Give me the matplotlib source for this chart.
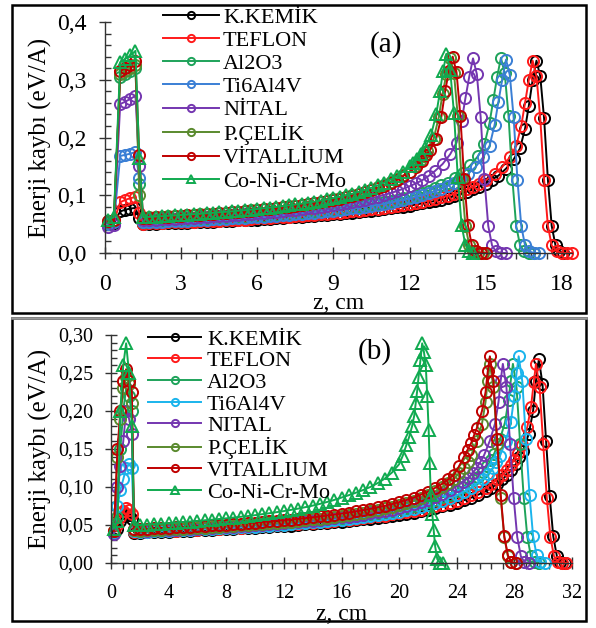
import matplotlib
matplotlib.use("Agg")
import matplotlib.pyplot as plt
from matplotlib.ticker import MultipleLocator, FixedLocator, FixedFormatter
from matplotlib.patches import Rectangle
from matplotlib.lines import Line2D

plt.rcParams['font.family'] = ['Liberation Serif', 'DejaVu Serif']

# ---------------- panel (a) data ----------------
a_spike_z = [0.1, 0.35, 0.6, 0.8, 1.0, 1.2, 1.35]
a_plateau_z = [1.5, 1.75, 2.0, 2.25, 2.5, 2.75, 3.0, 3.25, 3.5, 3.75, 4.0, 4.25, 4.5, 4.75,
               5.0, 5.25, 5.5, 5.75, 6.0, 6.25, 6.5, 6.75, 7.0, 7.25, 7.5, 7.75, 8.0, 8.25,
               8.5, 8.75, 9.0, 9.25, 9.5, 9.75, 10.0, 10.25, 10.5, 10.75, 11.0, 11.25, 11.5,
               11.75, 12.0]

a_kemik_spike = [0.050, 0.052, 0.072, 0.075, 0.077, 0.078, 0.060]
a_kemik_plateau = [0.050, 0.0505, 0.051, 0.0512, 0.0515, 0.0518, 0.052, 0.0525, 0.053, 0.0535,
                   0.054, 0.0545, 0.055, 0.0555, 0.056, 0.0565, 0.057, 0.0575, 0.058, 0.0585,
                   0.059, 0.060, 0.061, 0.0615, 0.062, 0.063, 0.064, 0.0645, 0.065, 0.066, 0.067,
                   0.068, 0.069, 0.070, 0.071, 0.072, 0.073, 0.0745, 0.076, 0.0775, 0.079, 0.0805,
                   0.082]
a_kemik_tail_z = [12.25, 12.5, 12.75, 13.0, 13.25, 13.5, 13.75, 14.0, 14.25, 14.5, 14.75, 15.0,
                  15.25, 15.5, 15.8, 16.1, 16.35, 16.55, 16.7, 16.85, 17.0, 17.15, 17.3, 17.45,
                  17.6, 17.75, 17.9, 18.05]
a_kemik_tail_e = [0.084, 0.086, 0.088, 0.090, 0.0925, 0.095, 0.0985, 0.102, 0.106, 0.110, 0.115,
                  0.120, 0.127, 0.134, 0.146, 0.162, 0.181, 0.215, 0.255, 0.300, 0.333, 0.306,
                  0.233, 0.127, 0.047, 0.013, 0.003, 0.0]

a_teflon_spike = [0.052, 0.055, 0.088, 0.092, 0.095, 0.097, 0.070]
a_teflon_plateau = [0.051, 0.0515, 0.052, 0.0525, 0.053, 0.0535, 0.054, 0.0543, 0.0545, 0.0548,
                    0.055, 0.0555, 0.056, 0.0565, 0.057, 0.0575, 0.058, 0.059, 0.0598, 0.0604,
                    0.061, 0.0617, 0.0624, 0.0631, 0.0638, 0.0645, 0.0653, 0.0661, 0.067, 0.068,
                    0.069, 0.070, 0.071, 0.072, 0.073, 0.0742, 0.0755, 0.0767, 0.078, 0.0795,
                    0.081, 0.083, 0.085]
a_teflon_tail_z = [12.25, 12.5, 12.75, 13.0, 13.25, 13.5, 13.75, 14.0, 14.25, 14.5, 14.75, 15.0,
                   15.35, 15.65, 15.95, 16.2, 16.4, 16.55, 16.7, 16.85, 17.0, 17.15, 17.3, 17.45,
                   17.6, 17.8, 18.0, 18.2, 18.4]
a_teflon_tail_e = [0.087, 0.089, 0.0915, 0.094, 0.0965, 0.099, 0.1025, 0.106, 0.110, 0.115, 0.120,
                   0.126, 0.137, 0.149, 0.166, 0.185, 0.220, 0.260, 0.300, 0.333, 0.306, 0.233,
                   0.127, 0.047, 0.013, 0.003, 0.0, 0.0, 0.0]

a_al2o3_spike = [0.052, 0.055, 0.305, 0.310, 0.315, 0.320, 0.120]
a_al2o3_plateau = [0.0540, 0.0545, 0.0549, 0.0554, 0.0558, 0.0563, 0.0568, 0.0573, 0.0578, 0.0583,
                   0.0589, 0.0594, 0.0600, 0.0606, 0.0613, 0.0619, 0.0626, 0.0633, 0.0640, 0.0647,
                   0.0655, 0.0663, 0.0672, 0.0680, 0.0689, 0.0699, 0.0709, 0.0719, 0.0730, 0.0741,
                   0.0753, 0.0766, 0.0780, 0.0794, 0.0809, 0.0825, 0.0842, 0.0860, 0.0880, 0.0901,
                   0.0924, 0.0950, 0.0977]
a_al2o3_tail_z = [12.25, 12.5, 12.75, 13.0, 13.25, 13.5, 13.8, 14.1, 14.4, 14.7, 14.95, 15.15,
                  15.3, 15.45, 15.6, 15.75, 15.9, 16.05, 16.2, 16.35, 16.5, 16.7, 16.9]
a_al2o3_tail_e = [0.1005, 0.104, 0.108, 0.112, 0.117, 0.122, 0.130, 0.139, 0.152, 0.168, 0.188,
                  0.225, 0.265, 0.305, 0.338, 0.311, 0.237, 0.128, 0.047, 0.014, 0.003, 0.0, 0.0]

a_ti_spike = [0.050, 0.053, 0.168, 0.170, 0.172, 0.175, 0.130]
a_ti_plateau = [0.0530, 0.0534, 0.0538, 0.0542, 0.0547, 0.0551, 0.0556, 0.0561, 0.0566, 0.0571,
                0.0577, 0.0582, 0.0588, 0.0593, 0.0599, 0.0605, 0.0612, 0.0618, 0.0625, 0.0632,
                0.0640, 0.0648, 0.0656, 0.0664, 0.0673, 0.0682, 0.0691, 0.0701, 0.0711, 0.0722,
                0.0734, 0.0746, 0.0759, 0.0772, 0.0786, 0.0802, 0.0818, 0.0835, 0.0853, 0.0873,
                0.0895, 0.0919, 0.0944]
a_ti_tail_z = [12.25, 12.5, 12.75, 13.0, 13.25, 13.5, 13.75, 14.0, 14.3, 14.6, 14.9, 15.15,
               15.35, 15.5, 15.65, 15.8, 15.95, 16.1, 16.25, 16.4, 16.55, 16.7, 16.9, 17.1]
a_ti_tail_e = [0.097, 0.100, 0.1035, 0.107, 0.111, 0.116, 0.122, 0.128, 0.137, 0.149, 0.166,
               0.185, 0.222, 0.262, 0.300, 0.335, 0.308, 0.235, 0.127, 0.047, 0.013, 0.003,
               0.0, 0.0]

a_nital_spike = [0.045, 0.048, 0.258, 0.262, 0.267, 0.272, 0.150]
a_nital_plateau = [0.0570, 0.0575, 0.0580, 0.0585, 0.0590, 0.0595, 0.0600, 0.0606, 0.0613, 0.0619,
                   0.0626, 0.0633, 0.0640, 0.0647, 0.0654, 0.0662, 0.0670, 0.0678, 0.0687, 0.0696,
                   0.0705, 0.0715, 0.0725, 0.0736, 0.0747, 0.0759, 0.0772, 0.0786, 0.0800, 0.0815,
                   0.0830, 0.0847, 0.0864, 0.0883, 0.0904, 0.0926, 0.0950, 0.0977, 0.1006, 0.1038,
                   0.1072, 0.1112, 0.1156]
a_nital_tail_z = [12.25, 12.5, 12.75, 13.0, 13.3, 13.6, 13.85, 14.05, 14.2, 14.35, 14.5, 14.65,
                  14.8, 14.95, 15.1, 15.25, 15.4, 15.6, 15.8]
a_nital_tail_e = [0.1205, 0.126, 0.1335, 0.142, 0.154, 0.171, 0.191, 0.228, 0.268, 0.305, 0.337,
                  0.310, 0.236, 0.128, 0.047, 0.013, 0.003, 0.0, 0.0]

a_celik_spike = [0.055, 0.058, 0.310, 0.315, 0.320, 0.325, 0.100]
a_celik_plateau = [0.0609, 0.0615, 0.0621, 0.0627, 0.0633, 0.0639, 0.0646, 0.0653, 0.0660, 0.0667,
                   0.0674, 0.0682, 0.0691, 0.0699, 0.0708, 0.0717, 0.0727, 0.0737, 0.0747, 0.0758,
                   0.0769, 0.0781, 0.0794, 0.0808, 0.0822, 0.0837, 0.0853, 0.0870, 0.0888, 0.0907,
                   0.0928, 0.0950, 0.0974, 0.1000, 0.1030, 0.1061, 0.1096, 0.1135, 0.1179, 0.1230,
                   0.1286, 0.1345, 0.1409]
a_celik_tail_z = [12.2, 12.4, 12.55, 12.7, 12.95, 13.15, 13.3, 13.45, 13.6, 13.75, 13.9, 14.05,
                  14.2, 14.35, 14.5, 14.7, 14.9]
a_celik_tail_e = [0.150, 0.160, 0.168, 0.177, 0.198, 0.235, 0.275, 0.310, 0.338, 0.311, 0.237,
                  0.128, 0.047, 0.014, 0.003, 0.0, 0.0]

a_vit_spike = [0.055, 0.058, 0.315, 0.320, 0.326, 0.332, 0.170]
a_vit_plateau = [0.0608, 0.0614, 0.0620, 0.0626, 0.0632, 0.0638, 0.0644, 0.0651, 0.0658, 0.0665,
                 0.0673, 0.0681, 0.0689, 0.0697, 0.0706, 0.0715, 0.0724, 0.0734, 0.0744, 0.0755,
                 0.0766, 0.0778, 0.0790, 0.0804, 0.0818, 0.0833, 0.0848, 0.0865, 0.0882, 0.0901,
                 0.0921, 0.0943, 0.0966, 0.0992, 0.1020, 0.1051, 0.1084, 0.1122, 0.1165, 0.1213,
                 0.1266, 0.1332, 0.1406]
a_vit_tail_z = [12.25, 12.5, 12.65, 12.8, 13.05, 13.25, 13.4, 13.55, 13.7, 13.85, 14.0, 14.15,
                14.3, 14.45, 14.6, 14.8, 15.0]
a_vit_tail_e = [0.149, 0.160, 0.169, 0.178, 0.198, 0.235, 0.280, 0.315, 0.340, 0.313, 0.238,
                0.129, 0.048, 0.014, 0.003, 0.0, 0.0]

a_co_spike = [0.058, 0.062, 0.330, 0.336, 0.342, 0.350, 0.165]
a_co_plateau = [0.0620, 0.0626, 0.0632, 0.0638, 0.0644, 0.0651, 0.0658, 0.0665, 0.0672, 0.0679,
                0.0687, 0.0695, 0.0704, 0.0712, 0.0721, 0.0731, 0.0741, 0.0751, 0.0762, 0.0774,
                0.0786, 0.0799, 0.0812, 0.0826, 0.0840, 0.0856, 0.0872, 0.0890, 0.0909, 0.0929,
                0.0951, 0.0975, 0.1000, 0.1028, 0.1059, 0.1093, 0.1130, 0.1172, 0.1219, 0.1273,
                0.1335, 0.1410, 0.1498]
a_co_tail_z = [12.15, 12.3, 12.45, 12.6, 12.85, 13.05, 13.2, 13.32, 13.45, 13.6, 13.75, 13.9,
               14.05, 14.2, 14.35, 14.5]
a_co_tail_e = [0.156, 0.163, 0.172, 0.182, 0.205, 0.240, 0.280, 0.315, 0.345, 0.317, 0.242,
               0.131, 0.048, 0.014, 0.003, 0.0]

# ---------------- panel (b) data ----------------
b_spike_z = [0.2, 0.45, 0.65, 0.85, 1.05, 1.25, 1.45, 1.6]
b_plateau_z = [2, 2.5, 3, 3.5, 4, 4.5, 5, 5.5, 6, 6.5, 7, 7.5, 8, 8.5, 9, 9.5, 10, 10.5, 11,
               11.5, 12, 12.5, 13, 13.5, 14, 14.5, 15, 15.5, 16, 16.5, 17, 17.5, 18, 18.5, 19,
               19.5, 20]

b_kemik_spike = [0.040, 0.045, 0.055, 0.062, 0.065, 0.063, 0.058, 0.040]
b_kemik_plateau = [0.0400, 0.0403, 0.0407, 0.0410, 0.0413, 0.0417, 0.0421, 0.0425, 0.0429, 0.0433,
                   0.0437, 0.0441, 0.0446, 0.0450, 0.0455, 0.0460, 0.0465, 0.0470, 0.0476, 0.0481,
                   0.0487, 0.0493, 0.0500, 0.0507, 0.0514, 0.0521, 0.0529, 0.0537, 0.0545, 0.0554,
                   0.0564, 0.0574, 0.0584, 0.0595, 0.0607, 0.0620, 0.0633]
b_kemik_tail_z = [20.5, 21, 21.5, 22, 22.5, 23, 23.5, 24, 24.5, 25, 25.5, 26, 26.4, 26.8, 27.15,
                  27.5, 27.8, 28.1, 28.35, 28.6, 29.0, 29.3, 29.5, 29.7, 29.95, 30.2, 30.45, 30.7,
                  30.95, 31.2, 31.5]
b_kemik_tail_e = [0.0648, 0.0663, 0.0681, 0.0700, 0.0721, 0.0744, 0.0769, 0.0795, 0.0826, 0.0860,
                  0.0900, 0.0943, 0.099, 0.104, 0.110, 0.116, 0.123, 0.130, 0.139, 0.148, 0.170,
                  0.200, 0.240, 0.268, 0.236, 0.161, 0.088, 0.035, 0.009, 0.001, 0.0]

b_teflon_spike = [0.042, 0.050, 0.060, 0.068, 0.072, 0.070, 0.065, 0.041]
b_teflon_plateau = [0.0410, 0.0413, 0.0417, 0.0420, 0.0424, 0.0427, 0.0431, 0.0435, 0.0439, 0.0443,
                    0.0448, 0.0452, 0.0457, 0.0462, 0.0467, 0.0472, 0.0477, 0.0483, 0.0489, 0.0494,
                    0.0500, 0.0507, 0.0514, 0.0521, 0.0528, 0.0536, 0.0544, 0.0552, 0.0561, 0.0570,
                    0.0580, 0.0590, 0.0601, 0.0613, 0.0625, 0.0639, 0.0653]
b_teflon_tail_z = [20.5, 21, 21.5, 22, 22.5, 23, 23.5, 24, 24.5, 25, 25.5, 26, 26.4, 26.8, 27.15,
                   27.5, 27.75, 28.0, 28.25, 28.5, 28.9, 29.15, 29.35, 29.5, 29.75, 30.0, 30.25,
                   30.5, 30.75, 31.0, 31.3, 31.6]
b_teflon_tail_e = [0.0668, 0.0684, 0.0703, 0.0723, 0.0745, 0.0767, 0.0793, 0.0821, 0.0857, 0.0896,
                   0.0938, 0.0982, 0.104, 0.110, 0.116, 0.123, 0.129, 0.136, 0.145, 0.155, 0.179,
                   0.205, 0.238, 0.262, 0.231, 0.157, 0.086, 0.034, 0.009, 0.001, 0.0, 0.0]

b_al2o3_spike = [0.040, 0.060, 0.150, 0.200, 0.230, 0.220, 0.200, 0.043]
b_al2o3_plateau = [0.0420, 0.0424, 0.0428, 0.0431, 0.0435, 0.0440, 0.0444, 0.0448, 0.0453, 0.0457,
                   0.0462, 0.0467, 0.0472, 0.0477, 0.0483, 0.0489, 0.0495, 0.0501, 0.0507, 0.0514,
                   0.0521, 0.0528, 0.0536, 0.0544, 0.0552, 0.0561, 0.0571, 0.0581, 0.0591, 0.0602,
                   0.0614, 0.0627, 0.0640, 0.0655, 0.0670, 0.0687, 0.0705]
b_al2o3_tail_z = [20.5, 21, 21.5, 22, 22.5, 23, 23.5, 24, 24.4, 24.8, 25.15, 25.5, 25.8, 26.1,
                  26.35, 26.6, 27.0, 27.35, 27.6, 27.75, 27.9, 28.15, 28.4, 28.65, 28.9, 29.15,
                  29.4, 29.7]
b_al2o3_tail_e = [0.0725, 0.0747, 0.0771, 0.0797, 0.0828, 0.0862, 0.0900, 0.0944, 0.0998, 0.1055,
                  0.109, 0.1135, 0.120, 0.127, 0.135, 0.144, 0.163, 0.185, 0.215, 0.240, 0.262,
                  0.231, 0.157, 0.086, 0.034, 0.009, 0.001, 0.0]

b_ti_spike = [0.040, 0.075, 0.096, 0.110, 0.125, 0.130, 0.125, 0.042]
b_ti_plateau = [0.0410, 0.0413, 0.0417, 0.0420, 0.0424, 0.0428, 0.0432, 0.0436, 0.0441, 0.0445,
                0.0450, 0.0454, 0.0459, 0.0464, 0.0469, 0.0474, 0.0480, 0.0486, 0.0492, 0.0498,
                0.0505, 0.0512, 0.0520, 0.0527, 0.0535, 0.0544, 0.0553, 0.0562, 0.0571, 0.0582,
                0.0593, 0.0605, 0.0617, 0.0631, 0.0645, 0.0661, 0.0677]
b_ti_tail_z = [20.5, 21, 21.5, 22, 22.5, 23, 23.5, 24, 24.5, 25, 25.4, 25.8, 26.15, 26.5, 26.75,
               27.0, 27.4, 27.75, 28.0, 28.15, 28.3, 28.55, 28.8, 29.05, 29.3, 29.55, 29.8, 30.1]
b_ti_tail_e = [0.0696, 0.0716, 0.0738, 0.0762, 0.0789, 0.0818, 0.0853, 0.0892, 0.0940, 0.0993,
               0.1045, 0.110, 0.117, 0.125, 0.133, 0.141, 0.160, 0.185, 0.220, 0.250, 0.272,
               0.239, 0.163, 0.090, 0.035, 0.010, 0.001, 0.0]

b_nital_spike = [0.038, 0.100, 0.127, 0.160, 0.200, 0.190, 0.170, 0.043]
b_nital_plateau = [0.0420, 0.0424, 0.0428, 0.0432, 0.0436, 0.0440, 0.0444, 0.0448, 0.0453, 0.0458,
                   0.0463, 0.0468, 0.0473, 0.0479, 0.0485, 0.0491, 0.0497, 0.0503, 0.0510, 0.0517,
                   0.0525, 0.0533, 0.0541, 0.0549, 0.0558, 0.0568, 0.0578, 0.0588, 0.0599, 0.0611,
                   0.0624, 0.0638, 0.0653, 0.0668, 0.0684, 0.0703, 0.0724]
b_nital_tail_z = [20.5, 21, 21.5, 22, 22.5, 23, 23.5, 24, 24.4, 24.8, 25.1, 25.4, 25.65, 25.9,
                  26.3, 26.65, 26.9, 27.05, 27.2, 27.45, 27.7, 27.95, 28.2, 28.45, 28.7, 29.0]
b_nital_tail_e = [0.0747, 0.0772, 0.080, 0.083, 0.0866, 0.0907, 0.0955, 0.101, 0.1063, 0.112,
                  0.1185, 0.1256, 0.1335, 0.142, 0.161, 0.183, 0.212, 0.240, 0.262, 0.231, 0.157,
                  0.086, 0.034, 0.009, 0.001, 0.0]

b_celik_spike = [0.042, 0.140, 0.190, 0.230, 0.245, 0.235, 0.210, 0.044]
b_celik_plateau = [0.0426, 0.0430, 0.0434, 0.0438, 0.0443, 0.0447, 0.0452, 0.0456, 0.0461, 0.0466,
                   0.0471, 0.0477, 0.0483, 0.0489, 0.0495, 0.0501, 0.0508, 0.0515, 0.0522, 0.0530,
                   0.0538, 0.0546, 0.0555, 0.0564, 0.0574, 0.0584, 0.0595, 0.0607, 0.0620, 0.0634,
                   0.0648, 0.0663, 0.0680, 0.0699, 0.0719, 0.0741, 0.0766]
b_celik_tail_z = [20.5, 21, 21.5, 22, 22.5, 23, 23.4, 23.8, 24.15, 24.5, 24.75, 25.0, 25.4, 25.75,
                  26.0, 26.15, 26.3, 26.55, 26.8, 27.05, 27.3, 27.55, 27.8, 28.1]
b_celik_tail_e = [0.0792, 0.0821, 0.0856, 0.0896, 0.0943, 0.0998, 0.105, 0.111, 0.118, 0.125,
                  0.133, 0.142, 0.161, 0.183, 0.212, 0.240, 0.262, 0.231, 0.157, 0.086, 0.034,
                  0.009, 0.001, 0.0]

b_vit_spike = [0.042, 0.150, 0.200, 0.240, 0.255, 0.240, 0.225, 0.045]
b_vit_plateau = [0.0446, 0.0450, 0.0454, 0.0459, 0.0464, 0.0468, 0.0473, 0.0478, 0.0483, 0.0488,
                 0.0494, 0.0499, 0.0505, 0.0511, 0.0518, 0.0525, 0.0532, 0.0539, 0.0547, 0.0555,
                 0.0563, 0.0572, 0.0581, 0.0591, 0.0601, 0.0612, 0.0624, 0.0636, 0.0649, 0.0663,
                 0.0678, 0.0695, 0.0712, 0.0732, 0.0753, 0.0777, 0.0802]
b_vit_tail_z = [20.5, 21, 21.5, 22, 22.5, 23, 23.4, 23.8, 24.15, 24.5, 24.75, 25.0, 25.2, 25.4,
                25.75, 26.0, 26.15, 26.3, 26.55, 26.8, 27.05, 27.3, 27.55, 27.8, 28.1]
b_vit_tail_e = [0.0830, 0.0860, 0.0897, 0.0938, 0.0989, 0.1045, 0.110, 0.116, 0.127, 0.140,
                0.149, 0.158, 0.168, 0.178, 0.200, 0.225, 0.252, 0.272, 0.239, 0.163, 0.090,
                0.035, 0.010, 0.001, 0.0]

b_co_spike = [0.045, 0.055, 0.200, 0.260, 0.289, 0.250, 0.180, 0.050]
b_co_plateau = [0.0500, 0.0506, 0.0512, 0.0518, 0.0525, 0.0532, 0.0539, 0.0546, 0.0554, 0.0562,
                0.0570, 0.0579, 0.0588, 0.0598, 0.0608, 0.0618, 0.0629, 0.0642, 0.0655, 0.0669,
                0.0683, 0.0699, 0.0716, 0.0735, 0.0755, 0.0778, 0.0803, 0.0830, 0.0861, 0.0892,
                0.0925, 0.0960, 0.1000, 0.1050, 0.1110, 0.1190, 0.1300]
b_co_tail_z = [20.25, 20.5, 20.7, 20.9, 21.05, 21.15, 21.25, 21.35, 21.48, 21.6, 21.72, 21.85,
               21.95, 22.05, 22.12, 22.2, 22.3, 22.4, 22.5, 22.65, 22.85, 23.05]
b_co_tail_e = [0.141, 0.155, 0.166, 0.180, 0.194, 0.210, 0.226, 0.245, 0.267, 0.289, 0.278,
               0.260, 0.220, 0.175, 0.132, 0.090, 0.065, 0.043, 0.022, 0.005, 0.0, 0.0]

# names, colours, ticks
names_a = ['K.KEMİK', 'TEFLON', 'Al2O3', 'Ti6Al4V', 'NİTAL', 'P.ÇELİK', 'VİTALLİUM', 'Co-Ni-Cr-Mo']
names_b = ['K.KEMİK', 'TEFLON', 'Al2O3', 'Ti6Al4V', 'NITAL', 'P.ÇELİK', 'VITALLIUM', 'Co-Ni-Cr-Mo']
colors_a = ['#000000', '#ff1a1a', '#1ea35a', '#3a7fd5', '#7436b0', '#5a8a2e', '#c00000', '#10aa50']
colors_b = ['#000000', '#ff1a1a', '#1ea35a', '#1ab4ec', '#7436b0', '#5a8a2e', '#c00000', '#10aa50']
markers = ['o', 'o', 'o', 'o', 'o', 'o', 'o', '^']

a_xticks = [0, 3, 6, 9, 12, 15, 18]
a_yticks = [0.0, 0.1, 0.2, 0.3, 0.4]
a_ytick_labels = ['0,0', '0,1', '0,2', '0,3', '0,4']
b_xticks = [0, 4, 8, 12, 16, 20, 24, 28, 32]
b_yticks = [0.0, 0.05, 0.10, 0.15, 0.20, 0.25, 0.30]
b_ytick_labels = ['0,00', '0,05', '0,10', '0,15', '0,20', '0,25', '0,30']

curves_a = [
    (a_kemik_spike, a_kemik_plateau, a_kemik_tail_z, a_kemik_tail_e),
    (a_teflon_spike, a_teflon_plateau, a_teflon_tail_z, a_teflon_tail_e),
    (a_al2o3_spike, a_al2o3_plateau, a_al2o3_tail_z, a_al2o3_tail_e),
    (a_ti_spike, a_ti_plateau, a_ti_tail_z, a_ti_tail_e),
    (a_nital_spike, a_nital_plateau, a_nital_tail_z, a_nital_tail_e),
    (a_celik_spike, a_celik_plateau, a_celik_tail_z, a_celik_tail_e),
    (a_vit_spike, a_vit_plateau, a_vit_tail_z, a_vit_tail_e),
    (a_co_spike, a_co_plateau, a_co_tail_z, a_co_tail_e),
]
curves_b = [
    (b_kemik_spike, b_kemik_plateau, b_kemik_tail_z, b_kemik_tail_e),
    (b_teflon_spike, b_teflon_plateau, b_teflon_tail_z, b_teflon_tail_e),
    (b_al2o3_spike, b_al2o3_plateau, b_al2o3_tail_z, b_al2o3_tail_e),
    (b_ti_spike, b_ti_plateau, b_ti_tail_z, b_ti_tail_e),
    (b_nital_spike, b_nital_plateau, b_nital_tail_z, b_nital_tail_e),
    (b_celik_spike, b_celik_plateau, b_celik_tail_z, b_celik_tail_e),
    (b_vit_spike, b_vit_plateau, b_vit_tail_z, b_vit_tail_e),
    (b_co_spike, b_co_plateau, b_co_tail_z, b_co_tail_e),
]

W, H = 596, 628
fig = plt.figure(figsize=(W / 100, H / 100), dpi=100)
ax_a = fig.add_axes([105 / W, 1 - 253 / H, 467 / W, 231 / H])
ax_b = fig.add_axes([111 / W, 1 - 563 / H, 461 / W, 228 / H])


def draw(ax, curves, spike_z, plateau_z, names, colors):
    for (sp, pl, tz, te), name, col, mk in zip(curves, names, colors, markers):
        z = spike_z + plateau_z + tz
        e = sp + pl + te
        ax.plot(z, e, color=col, lw=1.4, marker=mk, ms=8, mfc='none', mew=1.4,
                label=name, clip_on=False)


draw(ax_a, curves_a, a_spike_z, a_plateau_z, names_a, colors_a)
draw(ax_b, curves_b, b_spike_z, b_plateau_z, names_b, colors_b)

ax_a.set_xlim(0, 18.4)
ax_a.set_ylim(0, 0.4)
ax_a.xaxis.set_major_locator(FixedLocator(a_xticks))
ax_a.xaxis.set_minor_locator(MultipleLocator(0.6))
ax_a.yaxis.set_major_locator(FixedLocator(a_yticks))
ax_a.yaxis.set_major_formatter(FixedFormatter(a_ytick_labels))
ax_a.yaxis.set_minor_locator(MultipleLocator(0.02))

ax_b.set_xlim(0, 32)
ax_b.set_ylim(0, 0.30)
ax_b.xaxis.set_major_locator(FixedLocator(b_xticks))
ax_b.xaxis.set_minor_locator(MultipleLocator(0.8))
ax_b.yaxis.set_major_locator(FixedLocator(b_yticks))
ax_b.yaxis.set_major_formatter(FixedFormatter(b_ytick_labels))
ax_b.yaxis.set_minor_locator(MultipleLocator(0.01))

for ax, tfs, xpad in [(ax_a, 17, -1.5), (ax_b, 14.5, 0.8)]:
    for s in ['top', 'right']:
        ax.spines[s].set_visible(False)
    for s in ['left', 'bottom']:
        ax.spines[s].set_color('#333333')
        ax.spines[s].set_linewidth(1.0)
    ax.tick_params(which='major', direction='inout', length=8, width=1.0,
                   color='#333333', labelsize=tfs)
    ax.tick_params(axis='x', which='minor', direction='out', length=4, width=1.0, color='#333333')
    ax.tick_params(axis='y', which='minor', direction='in', length=4, width=1.0, color='#333333')
    ax.tick_params(axis='x', which='major', pad=11)
    ax.tick_params(axis='y', which='major', pad=9)
    ax.set_ylabel('Enerji kaybı (eV/A)', fontsize=18, labelpad=4)
    ax.set_xlabel('z, cm', fontsize=17, labelpad=xpad)
    ax.set_facecolor('none')

ax_a.legend(loc='upper left', bbox_to_anchor=(163 / W, 1 - 7 / H), bbox_transform=fig.transFigure,
            frameon=False, fontsize=16, handlelength=2.5, handletextpad=0.2, labelspacing=0.12,
            borderpad=0, borderaxespad=0, markerscale=0.65)
ax_b.legend(loc='upper left', bbox_to_anchor=(148 / W, 1 - 329 / H), bbox_transform=fig.transFigure,
            frameon=False, fontsize=16, handlelength=2.4, handletextpad=0.25, labelspacing=0.05,
            borderpad=0, borderaxespad=0, markerscale=0.65)

fig.text(386 / W, 1 - 45 / H, '(a)', fontsize=21, ha='center', va='center')
fig.text(375 / W, 1 - 352 / H, '(b)', fontsize=21, ha='center', va='center')

# panel frames
fig.add_artist(Rectangle((12 / W, 1 - 313 / H), 574 / W, 308 / H, transform=fig.transFigure,
                         fill=False, ec='black', lw=1.8))
fig.add_artist(Rectangle((12 / W, 1 - 621 / H), 574 / W, 303 / H, transform=fig.transFigure,
                         fill=False, ec='black', lw=1.8))
fig.add_artist(Line2D([12 / W, 586 / W], [1 - 318 / H, 1 - 318 / H], transform=fig.transFigure,
                      color='#9a9a9a', lw=1.8))

fig.savefig('out.png', dpi=100)
